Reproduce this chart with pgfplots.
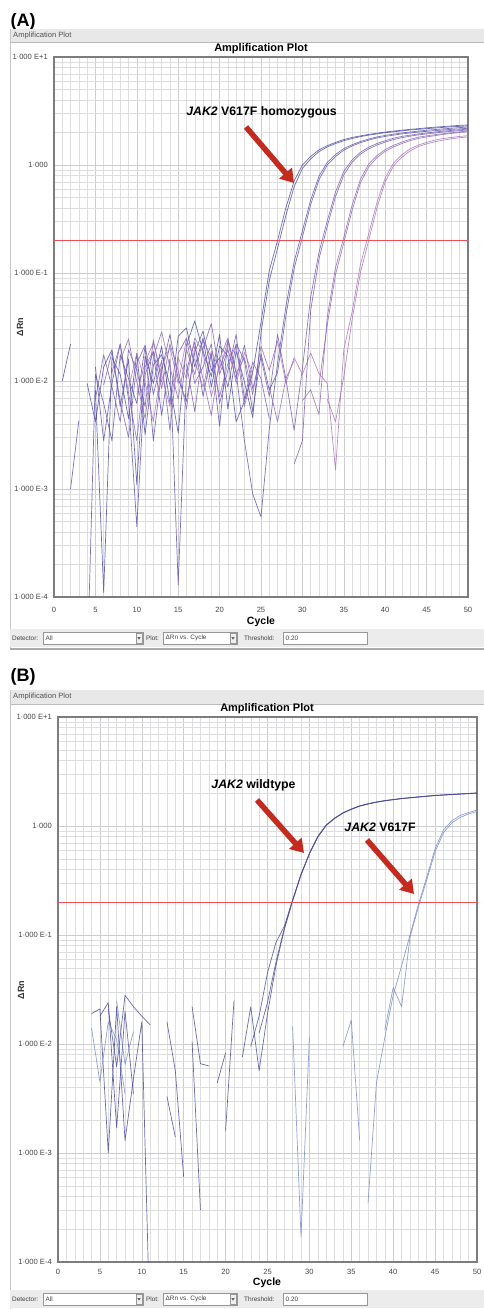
\documentclass[border=0pt]{standalone}
\usepackage{fontspec}
\setmainfont{Liberation Sans}
\usepackage{pgfplots}
\pgfplotsset{compat=1.18}
\usetikzlibrary{arrows.meta}

\newcommand\fs[1]{\fontsize{#1}{#1}\selectfont}

% colours of the software window and of the curves
\definecolor{gridmaj}{RGB}{205,205,208}
\definecolor{gridmin}{RGB}{222,222,225}
\definecolor{framec}{RGB}{125,125,125}
\definecolor{stripc}{RGB}{232,232,232}
\definecolor{toolbg}{RGB}{236,236,236}
\definecolor{boxc}{RGB}{150,150,150}
\definecolor{thresh}{RGB}{232,80,85}
\definecolor{arrowred}{RGB}{196,42,30}
\definecolor{wA}{RGB}{72,72,165}
\definecolor{wB}{RGB}{92,80,172}
\definecolor{wC}{RGB}{115,88,178}
\definecolor{wD}{RGB}{142,100,182}
\definecolor{wE}{RGB}{168,112,188}
\definecolor{wt}{RGB}{70,70,150}
\definecolor{mut}{RGB}{118,138,200}

\tikzset{tb/.style={font=\fs{6.4}, inner sep=0pt, text=black!75}}

\newcommand{\toolbar}[1]{%
  \begin{scope}[shift={(0,#1)}]
    \fill[toolbg] (10,-9) rectangle (484,9);
    \draw[boxc, fill=white, line width=0.5pt] (43,-6) rectangle (143,6);
    \draw[boxc, fill=gray!12, line width=0.4pt] (136,-5) rectangle (142,5);
    \fill[black!60] (137.3,-0.8) -- (140.7,-0.8) -- (139,1.6) -- cycle;
    \draw[boxc, fill=white, line width=0.5pt] (163,-6) rectangle (237,6);
    \draw[boxc, fill=gray!12, line width=0.4pt] (230,-5) rectangle (236,5);
    \fill[black!60] (231.3,-0.8) -- (234.7,-0.8) -- (233,1.6) -- cycle;
    \draw[boxc, fill=white, line width=0.5pt] (283,-6) rectangle (367,6);
    \node[tb, anchor=west] at (12,0) {Detector:};
    \node[tb, anchor=west] at (45.5,0) {All};
    \node[tb, anchor=west] at (146,0) {Plot:};
    \node[tb, anchor=west] at (165.5,0) {ΔRn vs. Cycle};
    \node[tb, anchor=west] at (244,0) {Threshold:};
    \node[tb, anchor=west] at (285.5,0) {0.20};
  \end{scope}}

\begin{document}
\begin{tikzpicture}
\useasboundingbox (0,0) rectangle (484pt,-1309pt);
\fill[white] (0,0) rectangle (484pt,-1309pt);

% ---------- window chrome, panel A ----------
\begin{scope}[x=1pt, y=-1pt]
  \node[anchor=base west, font=\bfseries\fs{18}, inner sep=0pt] at (10.5,27) {(A)};
  \fill[stripc] (10,29) rectangle (484,42);
  \draw[gray!55, line width=0.5pt] (10,42) -- (484,42);
  \node[anchor=west, font=\fs{7.6}, text=black!68, inner sep=0pt] at (13,35.5) {Amplification Plot};
  \draw[gray!45, line width=0.7pt] (10,29) -- (10,649);
  \node[font=\bfseries\fs{11}, inner sep=0pt] at (261,49) {Amplification Plot};
  \node[rotate=90, font=\bfseries\fs{9}, text=black!80, inner sep=0pt] at (20,327) {ΔRn};
  \node[font=\bfseries\fs{10.5}, inner sep=0pt] at (261,622) {Cycle};
  \toolbar{638}
  \draw[gray!65, line width=1.6pt] (10,649) -- (484,649);
\end{scope}

\begin{axis}[at={(54pt,-597pt)}, anchor=south west,
  scale only axis, width=414pt, height=540pt,
  ymode=log, xmin=0, xmax=50, ymin=1e-4, ymax=10,
  xtick={0,5,...,50}, minor x tick num=4,
  ytick={1e-4,1e-3,1e-2,1e-1,1,10},
  yticklabels={1·000 E-4,1·000 E-3,1·000 E-2,1·000 E-1,1·000,1·000 E+1},
  minor ytick={2e-4,3e-4,4e-4,5e-4,6e-4,7e-4,8e-4,9e-4,2e-3,3e-3,4e-3,5e-3,6e-3,7e-3,8e-3,9e-3,0.02,0.03,0.04,0.05,0.06,0.07,0.08,0.09,0.2,0.3,0.4,0.5,0.6,0.7,0.8,0.9,2,3,4,5,6,7,8,9},
  grid=both,
  major grid style={draw=gridmaj, line width=0.45pt},
  minor grid style={draw=gridmin, line width=0.45pt},
  major tick length=0pt, minor tick length=0pt,
  axis line style={draw=framec, line width=1.3pt},
  tick label style={font=\fs{7.6}, text=black!72, inner sep=0pt},
  yticklabel style={xshift=-6pt},
  xticklabel style={yshift=-10pt},
  /pgf/number format/assume math mode=true,
  unbounded coords=jump,
  every axis plot/.append style={line width=0.7pt, opacity=0.8, line join=round}]
% well 1
\addplot[wA] coordinates {(4,0.0095)(5,0.0042)(6,0.0135)(7,0.0195)(8,0.0058)(9,0.016)(10,0.0011)(11,0.017)(12,0.0095)(13,0.021)(14,0.0062)(15,0.026)(16,0.031)(17,0.0135)(18,0.025)(19,0.0088)(20,0.021)(21,0.017)(22,0.0042)(23,0.0065)(24,0.012)(25,0.035)(26,0.105)(27,0.20)(28,0.40)(29,0.71)(30,1.00)(31,1.20)(32,1.38)(33,1.51)(34,1.62)(35,1.72)(36,1.80)(37,1.86)(38,1.92)(39,1.97)(40,2.02)(41,2.06)(42,2.10)(43,2.14)(44,2.17)(45,2.21)(46,2.24)(47,2.27)(48,2.30)(49,2.33)(50,2.35)};
% well 2
\addplot[wA] coordinates {(1,0.0100)(2,0.022)(3,nan)(5,0.0082)(6,0.00011)(7,0.0165)(8,0.0115)(9,0.0045)(10,0.018)(11,0.0032)(12,0.014)(13,0.0175)(14,0.0092)(15,0.0033)(16,0.0215)(17,0.036)(18,0.019)(19,0.011)(20,0.027)(21,0.0055)(22,0.019)(23,0.0098)(24,0.0046)(25,0.028)(26,0.085)(27,0.17)(28,0.34)(29,0.63)(30,0.93)(31,1.14)(32,1.33)(33,1.47)(34,1.58)(35,1.68)(36,1.76)(37,1.83)(38,1.89)(39,1.94)(40,1.99)(41,2.03)(42,2.07)(43,2.11)(44,2.14)(45,2.17)(46,2.20)(47,2.23)(48,2.26)(49,2.28)(50,2.30)};
% well 3
\addplot[wB] coordinates {(2,0.0010)(3,0.0043)(4,nan)(5,0.0135)(6,0.0028)(7,0.0095)(8,0.022)(9,0.0068)(10,0.00045)(11,0.0115)(12,0.0185)(13,0.0048)(14,0.016)(15,0.00013)(16,0.0125)(17,0.023)(18,0.0072)(19,0.018)(20,0.0038)(21,0.024)(22,0.012)(23,0.0028)(24,0.0009)(25,0.00055)(26,0.0036)(27,0.0146)(28,0.0486)(29,0.127)(30,0.246)(31,0.475)(32,0.787)(33,1.057)(34,1.25)(35,1.42)(36,1.54)(37,1.65)(38,1.74)(39,1.82)(40,1.88)(41,1.93)(42,1.98)(43,2.02)(44,2.06)(45,2.10)(46,2.13)(47,2.16)(48,2.19)(49,2.22)(50,2.25)};
% well 4
\addplot[wB] coordinates {(4,0.00002)(5,0.0115)(6,0.0062)(7,0.0028)(8,0.0175)(9,0.0105)(10,0.0062)(11,0.021)(12,0.0028)(13,0.0125)(14,0.027)(15,0.0105)(16,0.0065)(17,0.0185)(18,0.029)(19,0.0125)(20,0.0165)(21,0.0088)(22,0.022)(23,0.0155)(24,0.0052)(25,0.018)(26,0.0082)(27,0.012)(28,0.040)(29,0.11)(30,0.215)(31,0.43)(32,0.73)(33,1.00)(34,1.20)(35,1.37)(36,1.50)(37,1.61)(38,1.70)(39,1.78)(40,1.84)(41,1.89)(42,1.94)(43,1.98)(44,2.02)(45,2.05)(46,2.08)(47,2.11)(48,2.14)(49,2.16)(50,2.19)};
% well 5
\addplot[wC] coordinates {(5,0.0068)(6,0.0175)(7,0.0088)(8,0.0042)(9,0.0195)(10,0.0125)(11,0.0058)(12,0.024)(13,0.0098)(14,nan)(16,0.0145)(17,0.0052)(18,0.020)(19,0.034)(20,0.0115)(21,0.0195)(22,0.0105)(23,0.0215)(24,0.0085)(25,0.0165)(26,0.0072)(27,0.027)(28,0.0105)(29,0.0035)(30,0.013)(31,0.060)(32,0.155)(33,0.303)(34,0.564)(35,0.872)(36,1.115)(37,1.31)(38,1.46)(39,1.58)(40,1.68)(41,1.77)(42,1.84)(43,1.89)(44,1.94)(45,1.98)(46,2.02)(47,2.06)(48,2.09)(49,2.12)(50,2.15)};
% well 6
\addplot[wC] coordinates {(6,0.0092)(7,0.0185)(8,0.0065)(9,0.0030)(10,0.0145)(11,0.0215)(12,0.0075)(13,0.0155)(14,0.0035)(15,0.018)(16,0.025)(17,0.0095)(18,0.0135)(19,0.022)(20,0.0062)(21,0.0125)(22,0.027)(23,0.0068)(24,0.015)(25,0.0105)(26,0.0045)(27,nan)(29,0.0017)(30,0.0028)(31,0.045)(32,0.135)(33,0.27)(34,0.51)(35,0.81)(36,1.06)(37,1.26)(38,1.41)(39,1.53)(40,1.63)(41,1.72)(42,1.79)(43,1.85)(44,1.90)(45,1.94)(46,1.98)(47,2.02)(48,2.05)(49,2.08)(50,2.11)};
% well 7
\addplot[wD] coordinates {(7,0.012)(8,0.022)(9,0.0078)(10,0.0028)(11,0.0135)(12,0.019)(13,0.0085)(14,0.022)(15,0.0125)(16,0.0055)(17,0.021)(18,0.0105)(19,0.0048)(20,0.016)(21,0.025)(22,0.0118)(23,0.0165)(24,0.0075)(25,0.021)(26,0.0125)(27,0.0235)(28,nan)(30,0.0066)(31,0.0083)(32,0.0049)(33,0.039)(34,0.112)(35,0.214)(36,0.424)(37,0.735)(38,1.02)(39,1.22)(40,1.39)(41,1.52)(42,1.63)(43,1.73)(44,1.81)(45,1.86)(46,1.91)(47,1.95)(48,1.99)(49,2.03)(50,2.06)};
% well 8
\addplot[wD] coordinates {(8,0.0155)(9,0.0245)(10,0.0098)(11,0.0045)(12,0.0165)(13,0.0285)(14,0.0135)(15,0.0068)(16,0.0195)(17,0.0115)(18,0.024)(19,0.0165)(20,0.0072)(21,0.0145)(22,0.0215)(23,0.0058)(24,0.0125)(25,nan)(26,0.0088)(27,0.0042)(28,0.0105)(29,0.0155)(30,nan)(32,0.0092)(33,0.033)(34,0.097)(35,0.19)(36,0.38)(37,0.68)(38,0.96)(39,1.17)(40,1.34)(41,1.47)(42,1.58)(43,1.68)(44,1.76)(45,1.82)(46,1.87)(47,1.92)(48,1.96)(49,2.00)(50,2.03)};
% well 9
\addplot[wE] coordinates {(9,0.0085)(10,0.018)(11,0.0098)(12,0.0042)(13,0.0135)(14,0.0205)(15,0.0095)(16,0.0245)(17,0.0155)(18,0.0088)(19,0.019)(20,0.0128)(21,0.0235)(22,0.0095)(23,0.0185)(24,0.0115)(25,nan)(27,0.0235)(28,0.0095)(29,0.0165)(30,0.0115)(31,0.0182)(32,0.0117)(33,0.0095)(34,0.0015)(35,0.0195)(36,0.0436)(37,0.119)(38,0.230)(39,0.449)(40,0.760)(41,1.04)(42,1.24)(43,1.41)(44,1.53)(45,1.62)(46,1.70)(47,1.76)(48,1.80)(49,1.84)(50,1.87)};
% well 10
\addplot[wE] coordinates {(10,0.0075)(11,0.015)(12,0.0225)(13,0.0115)(14,0.0058)(15,0.0165)(16,0.0105)(17,0.025)(18,0.0185)(19,0.0072)(20,0.0135)(21,0.0205)(22,nan)(33,0.0068)(34,0.0042)(35,0.011)(36,0.037)(37,0.10)(38,0.20)(39,0.40)(40,0.70)(41,0.98)(42,1.18)(43,1.35)(44,1.48)(45,1.57)(46,1.64)(47,1.70)(48,1.75)(49,1.79)(50,1.82)};
% threshold
\addplot[thresh, line width=0.9pt, opacity=1] coordinates {(0,0.2)(50,0.2)};
\end{axis}

% ---------- window chrome, panel B ----------
\begin{scope}[x=1pt, y=-1pt]
  \node[anchor=base west, font=\bfseries\fs{18}, inner sep=0pt] at (10.5,681) {(B)};
  \fill[stripc] (10,690) rectangle (484,704);
  \draw[gray!55, line width=0.5pt] (10,704) -- (484,704);
  \node[anchor=west, font=\fs{7.6}, text=black!68, inner sep=0pt] at (13,697) {Amplification Plot};
  \draw[gray!45, line width=0.7pt] (10,690) -- (10,1309);
  \node[font=\bfseries\fs{11}, inner sep=0pt] at (267,709) {Amplification Plot};
  \node[rotate=90, font=\bfseries\fs{9}, text=black!80, inner sep=0pt] at (21,990) {ΔRn};
  \node[font=\bfseries\fs{10.5}, inner sep=0pt] at (267,1283) {Cycle};
  \toolbar{1299}
\end{scope}

\begin{axis}[at={(58pt,-1262pt)}, anchor=south west,
  scale only axis, width=419pt, height=545pt,
  ymode=log, xmin=0, xmax=50, ymin=1e-4, ymax=10,
  xtick={0,5,...,50}, minor x tick num=4,
  ytick={1e-4,1e-3,1e-2,1e-1,1,10},
  yticklabels={1·000 E-4,1·000 E-3,1·000 E-2,1·000 E-1,1·000,1·000 E+1},
  minor ytick={2e-4,3e-4,4e-4,5e-4,6e-4,7e-4,8e-4,9e-4,2e-3,3e-3,4e-3,5e-3,6e-3,7e-3,8e-3,9e-3,0.02,0.03,0.04,0.05,0.06,0.07,0.08,0.09,0.2,0.3,0.4,0.5,0.6,0.7,0.8,0.9,2,3,4,5,6,7,8,9},
  grid=both,
  major grid style={draw=gridmaj, line width=0.45pt},
  minor grid style={draw=gridmin, line width=0.45pt},
  major tick length=0pt, minor tick length=0pt,
  axis line style={draw=framec, line width=1.3pt},
  tick label style={font=\fs{7.6}, text=black!72, inner sep=0pt},
  yticklabel style={xshift=-6pt},
  xticklabel style={yshift=-7pt},
  /pgf/number format/assume math mode=true,
  unbounded coords=jump,
  every axis plot/.append style={line width=0.7pt, opacity=0.8, line join=round}]
% wildtype wells
\addplot[wt] coordinates {(4,0.019)(5,0.021)(6,0.0010)(7,0.022)(8,0.0013)(9,0.0048)(10,0.016)(11,0.00002)(12,nan)(13,0.016)(14,0.0057)(15,0.0006)(16,nan)(20,0.0016)(21,0.025)(22,nan)(24,0.0126)(25,0.024)(26,0.056)(27,0.115)(28,0.21)(29,0.36)(30,0.56)(31,0.80)(32,1.02)(33,1.18)(34,1.32)(35,1.43)(36,1.53)(37,1.60)(38,1.66)(39,1.71)(40,1.75)(41,1.79)(42,1.82)(43,1.85)(44,1.88)(45,1.91)(46,1.93)(47,1.95)(48,1.97)(49,1.99)(50,2.01)};
\addplot[wt] coordinates {(6,0.021)(7,0.0062)(8,0.028)(9,0.022)(10,0.018)(11,0.015)(12,nan)(13,0.0033)(14,0.0014)(15,nan)(16,0.022)(17,0.0066)(18,0.0063)(19,nan)(22,0.0076)(23,0.022)(24,0.0057)(25,0.019)(26,0.052)(27,0.112)(28,0.205)(29,0.355)(30,0.555)(31,0.79)(32,1.01)(33,1.17)(34,1.31)(35,1.42)(36,1.52)(37,1.59)(38,1.65)(39,1.70)(40,1.74)(41,1.78)(42,1.81)(43,1.84)(44,1.87)(45,1.90)(46,1.92)(47,1.94)(48,1.96)(49,1.98)(50,2.00)};
\addplot[wt] coordinates {(5,0.018)(6,0.024)(7,0.0017)(8,0.020)(9,0.0035)(10,nan)(16,0.0105)(17,0.0003)(18,nan)(19,0.0044)(20,0.0083)(21,nan)(23,0.0095)(24,0.018)(25,0.045)(26,0.085)(27,0.12)(28,0.21)(29,0.36)(30,0.56)(31,0.80)(32,1.02)(33,1.18)(34,1.32)(35,1.43)(36,1.53)(37,1.60)(38,1.66)(39,1.71)(40,1.75)(41,1.79)(42,1.82)(43,1.85)(44,1.88)(45,1.91)(46,1.93)(47,1.95)(48,1.97)(49,1.99)(50,2.01)};
% V617F wells
\addplot[mut] coordinates {(4,0.014)(5,0.0045)(6,0.016)(7,0.011)(8,0.0035)(9,nan)(28,0.0145)(29,0.00017)(30,0.0117)(31,nan)(37,0.00035)(38,0.0044)(39,0.0115)(40,0.028)(41,0.052)(42,0.10)(43,0.19)(44,0.34)(45,0.62)(46,0.92)(47,1.12)(48,1.25)(49,1.33)(50,1.40)};
\addplot[mut] coordinates {(7,0.025)(8,0.0065)(9,0.013)(10,nan)(34,0.0095)(35,0.0166)(36,0.0013)(37,nan)(39,0.0135)(40,0.033)(41,0.022)(42,0.095)(43,0.18)(44,0.32)(45,0.58)(46,0.87)(47,1.07)(48,1.20)(49,1.29)(50,1.36)};
% threshold
\addplot[thresh, line width=0.9pt, opacity=1] coordinates {(0,0.2)(50,0.2)};
\end{axis}

% ---------- annotations ----------
\begin{scope}[x=1pt, y=-1pt]
  \node[font=\bfseries\fs{12.3}, inner sep=0pt] at (261.5,112) {\textit{JAK2} V617F homozygous};
  \draw[arrowred, line width=5.5pt, -{Triangle[length=13pt, width=16pt]}] (246,127) -- (294,183);
  \node[font=\bfseries\fs{12.3}, inner sep=0pt] at (253.5,785) {\textit{JAK2} wildtype};
  \draw[arrowred, line width=5.5pt, -{Triangle[length=13pt, width=16pt]}] (257,800) -- (304,853);
  \node[font=\bfseries\fs{12.3}, inner sep=0pt] at (380,827) {\textit{JAK2} V617F};
  \draw[arrowred, line width=5.5pt, -{Triangle[length=13pt, width=16pt]}] (367,840) -- (414,894);
\end{scope}
\end{tikzpicture}
\end{document}
